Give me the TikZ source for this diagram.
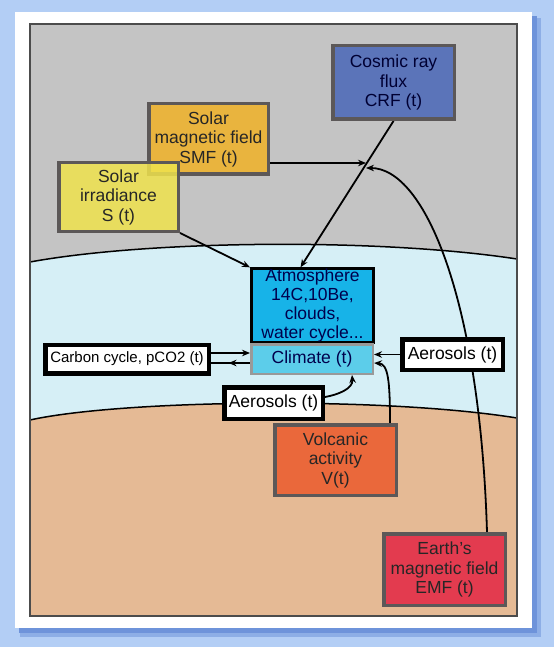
\documentclass[tikz,border=0pt]{standalone}
\usepackage{fontspec}
\setmainfont{Liberation Sans}
\usetikzlibrary{arrows.meta, decorations.markings}

\definecolor{outerblue}{HTML}{B3CEF5}
\definecolor{shadowblue}{HTML}{6E93DA}
\definecolor{skygray}{HTML}{C4C4C4}
\definecolor{airblue}{HTML}{D6EFF6}
\definecolor{earthtan}{HTML}{E5BA95}
\definecolor{crfblue}{HTML}{5B74B9}
\definecolor{smforange}{HTML}{E9B43E}
\definecolor{irryellow}{HTML}{EFE24D}
\definecolor{atmblue}{HTML}{17B3E8}
\definecolor{climblue}{HTML}{5CCDEA}
\definecolor{volcorange}{HTML}{EA683B}
\definecolor{emfred}{HTML}{E33B4F}
\definecolor{boxgray}{HTML}{5C5858}

\pgfdeclarelayer{back}
\pgfdeclarelayer{mid}
\pgfsetlayers{back,mid,main}

\tikzset{
  box/.style={draw=boxgray, line width=3.5pt, align=center, inner sep=2pt,
    minimum width=121.5pt, font=\fontsize{17.5}{19.5}\selectfont, text=black!85},
  wbox/.style={draw=black, line width=4.5pt, fill=white, inner sep=2pt,
    font=\fontsize{17.5}{19.5}\selectfont},
  conn/.style={line width=1.8pt, -{Stealth[length=8pt,width=6.5pt]}},
  midarrow/.style={line width=1.8pt, postaction={decorate},
    decoration={markings, mark=at position 0.55 with {\arrow{Stealth[length=8pt,width=6.5pt]}}}},
  layerline/.style={line width=1.5pt}
}

\begin{document}
\begin{tikzpicture}[x=1pt, y=-1pt]
\useasboundingbox (0,0) rectangle (554,647);

\begin{pgfonlayer}{back}
\fill[outerblue] (0,0) rectangle (554,647);
\fill[shadowblue!55!outerblue] (20,18) rectangle (541,637);
\fill[shadowblue] (19,16) rectangle (537,633);
\fill[white] (15,12) rectangle (532,628);
\fill[skygray] (30,24) rectangle (517,616);
\fill[airblue] (30,262) .. controls (150,240) and (380,238) .. (517,259) -- (517,616) -- (30,616) -- cycle;
\fill[earthtan] (30,420) .. controls (120,400) and (380,396) .. (517,418) -- (517,616) -- (30,616) -- cycle;
\draw[layerline] (30,262) .. controls (150,240) and (380,238) .. (517,259);
\draw[layerline] (30,420) .. controls (120,400) and (380,396) .. (517,418);
\draw[line width=1.2pt, black!70] (30,24) rectangle (517,616);
\end{pgfonlayer}

\node[box, fill=crfblue, minimum height=73.5pt, text=blue!20!black] (crf) at (393.5,82.5) {Cosmic ray\\flux\\CRF (t)};
\node[box, fill=smforange, minimum width=119.5pt, minimum height=70.5pt] (smf) at (208.5,139) {Solar\\magnetic field\\SMF (t)};
\node[box, fill=irryellow, fill opacity=0.85, text opacity=1, minimum width=119.5pt, minimum height=68.5pt] (irr) at (118.5,197) {Solar\\irradiance\\S (t)};
\node[box, draw=black, line width=3pt, fill=atmblue, minimum width=122pt, minimum height=72pt, inner sep=0pt, font=\fontsize{17.5}{19}\selectfont, text=blue!30!black] (atm) at (312.5,305.5) {Atmosphere\\14C,10Be,\\clouds,\\water cycle...};
\node[box, draw=gray!80, line width=2.5pt, fill=climblue, minimum height=29.5pt, inner sep=0pt, text=blue!30!black] (clim) at (312,359) {Climate (t)};
\node[wbox, minimum width=163.5pt, minimum height=28.5pt, font=\fontsize{15}{17}\selectfont] (carbon) at (127,359) {Carbon cycle, pCO2 (t)};
\node[wbox, minimum width=100.5pt, minimum height=30.5pt] (aerR) at (452.5,354.5) {Aerosols (t)};
\node[wbox, minimum width=98.5pt, minimum height=31.5pt] (aerB) at (273.5,403) {Aerosols (t)};
\node[box, fill=volcorange, minimum height=70.5pt] (volc) at (335.5,460) {Volcanic\\activity\\V(t)};
\node[box, fill=emfred, minimum height=71.5pt] (emf) at (444.5,569.5) {Earth's\\magnetic field\\EMF (t)};

\begin{pgfonlayer}{mid}
\coordinate (cross) at (366,163);
\draw[conn] (irr.south east) -- (atm.north west);
\draw[conn] (smf.east |- cross) -- (cross);
\draw[conn] (crf.south) -- ([xshift=-12pt]atm.north);
\draw[conn] ([xshift=42.5pt]emf.north) .. controls (480,300) and (425,168) .. ([yshift=-5pt]cross);
\draw[conn] ([yshift=6pt]carbon.east) -- ([yshift=6pt]clim.west);
\draw[midarrow] ([yshift=-4pt]clim.west) -- ([yshift=-4pt]carbon.east);
\draw[conn] (aerR.west) -- (aerR.west -| clim.east);
\draw[conn] ([yshift=6pt]aerB.east) to[out=10, in=-85] ([xshift=40pt]clim.south);
\draw[conn] ([xshift=-8pt]volc.north east) .. controls (390,380) and (388,364) .. ([yshift=-4pt]clim.east);
\end{pgfonlayer}
\end{tikzpicture}
\end{document}
